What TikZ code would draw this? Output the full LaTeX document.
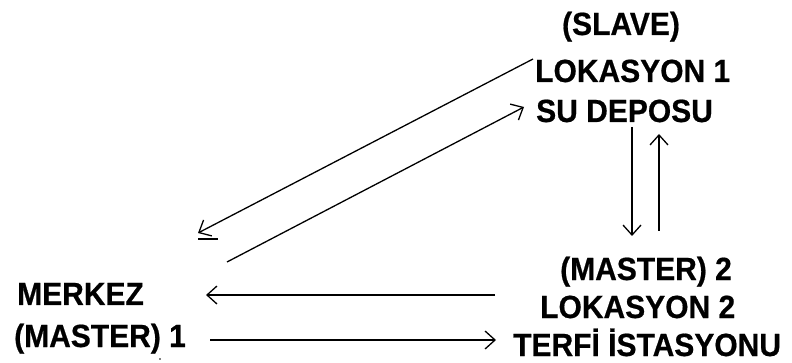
\documentclass[tikz,border=0pt]{standalone}
\usepackage{fontspec}
\usepackage{graphicx}
\setmainfont{Liberation Sans}[BoldFeatures={FakeBold=0.6}]
\usetikzlibrary{arrows.meta}
\newcommand{\tallt}[1]{\scalebox{1}[1.07]{#1}}
\tikzset{
  lbl/.style={anchor=base west, inner sep=0pt, font=\fontsize{30}{32}\selectfont\bfseries},
  conn/.style={line width=1.3pt, -{Straight Barb[length=10pt,width=18pt,line width=1.3pt]}}
}
\begin{document}
\begin{tikzpicture}[x=1pt,y=-1pt]
\useasboundingbox (0,0) rectangle (792,363);
\node[lbl, anchor=base] (slave) at (621,35) {\tallt{(SLAVE)}};
\node[lbl] (lok1) at (535,82) {\tallt{LOKASYON 1}};
\node[lbl] (su) at (536,122) {\tallt{SU DEPOSU}};
\node[lbl] (merkez) at (17,305) {\tallt{MERKEZ}};
\node[lbl] (m1) at (14,347) {\tallt{(MASTER) 1}};
\node[lbl] (m2) at (560,280) {\tallt{(MASTER) 2}};
\node[lbl] (lok2) at (540,318) {\tallt{LOKASYON 2}};
\node[lbl] (terfi) at (513,356) {\tallt{TERFİ İSTASYONU}};
% connector end points
\coordinate (a1) at (533,59);
\coordinate (a2) at (198,233);
\coordinate (b1) at (227,262);
\coordinate (b2) at (524,107);
\coordinate (c1) at (632,127);
\coordinate (c2) at (632,236);
\coordinate (d1) at (659,231);
\coordinate (d2) at (659,134);
\coordinate (e1) at (495,295);
\coordinate (e2) at (206,295);
\coordinate (f1) at (210,340);
\coordinate (f2) at (496,340);
\draw[conn] (a1) -- (a2);
\draw[conn] (b1) -- (b2);
\draw[conn] (c1) -- (c2);
\draw[conn] (d1) -- (d2);
\draw[conn] (e1) -- (e2);
\draw[conn] (f1) -- (f2);
\draw[line width=1.3pt] (198,239) -- (218,239);
\fill (160,359) circle (0.9pt);
\end{tikzpicture}
\end{document}
